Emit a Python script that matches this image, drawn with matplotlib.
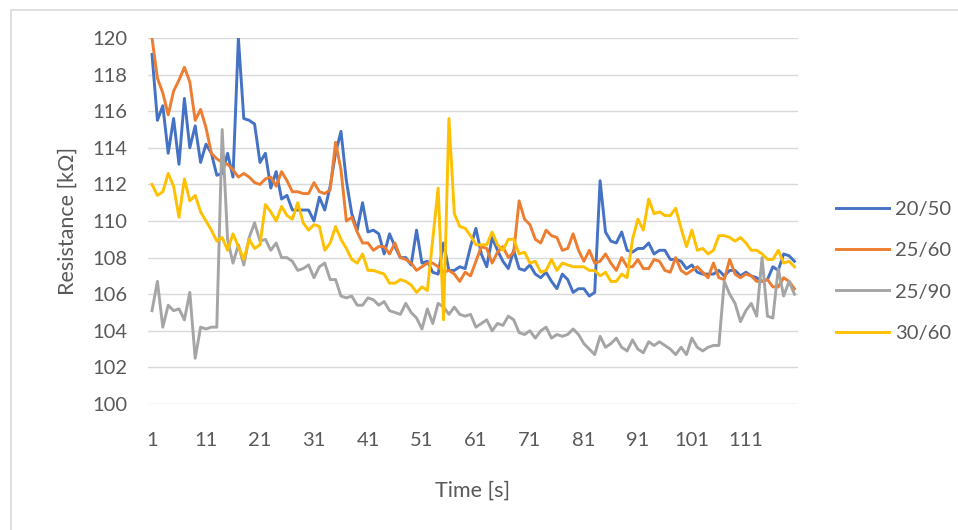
import numpy as np
import matplotlib
matplotlib.use("Agg")
import matplotlib.pyplot as plt
from matplotlib.patches import Rectangle

# resistance readings [kOhm], one per second
r_20_50 = [119.1, 115.5, 116.3, 113.7, 115.6, 113.1, 116.7, 114.0, 115.2, 113.2,
           114.2, 113.7, 112.5, 112.6, 113.7, 112.4, 120.0, 115.6, 115.5, 115.3,
           113.2, 113.7, 111.8, 112.7, 111.2, 111.4, 110.6, 110.6, 110.6, 110.6,
           110.0, 111.3, 110.6, 111.9, 113.7, 114.9, 112.2, 110.4, 109.5, 111.0,
           109.4, 109.5, 109.3, 108.2, 109.3, 108.6, 108.0, 108.0, 107.6, 109.5,
           107.7, 107.8, 107.2, 107.1, 108.8, 107.3, 107.3, 107.5, 107.4, 108.6,
           109.6, 108.2, 107.5, 109.1, 108.4, 107.8, 107.4, 108.4, 107.4, 107.3,
           107.6, 107.1, 106.9, 107.2, 106.7, 106.3, 107.1, 106.8, 106.1, 106.3,
           106.3, 105.9, 106.1, 112.2, 109.4, 108.9, 108.8, 109.4, 108.4, 108.3,
           108.5, 108.5, 108.8, 108.2, 108.4, 108.4, 107.9, 107.9, 107.8, 107.4,
           107.6, 107.2, 107.1, 107.1, 107.1, 107.3, 107.0, 107.3, 107.3, 107.0,
           107.2, 107.0, 106.9, 106.7, 106.8, 107.5, 107.3, 108.2, 108.1, 107.8]

r_25_60 = [120.0, 117.8, 117.0, 115.8, 117.1, 117.7, 118.4, 117.6, 115.5, 116.1,
           115.1, 113.7, 113.4, 113.2, 113.1, 112.8, 112.4, 112.6, 112.4, 112.1,
           112.0, 112.3, 112.4, 111.9, 112.7, 112.2, 111.6, 111.6, 111.5, 111.5,
           112.1, 111.6, 111.5, 111.7, 114.3, 112.8, 110.0, 110.2, 109.4, 108.8,
           108.8, 108.4, 108.6, 108.6, 108.2, 108.8, 108.0, 107.9, 107.7, 107.3,
           107.5, 107.7, 107.7, 107.5, 107.2, 107.3, 107.1, 106.7, 107.2, 107.0,
           107.8, 108.6, 108.5, 107.7, 108.3, 108.6, 108.0, 108.3, 111.1, 110.1,
           109.8, 109.0, 108.8, 109.5, 109.2, 109.1, 108.4, 108.5, 109.3, 108.4,
           107.8, 108.4, 107.7, 107.8, 108.2, 107.7, 107.3, 108.0, 107.5, 107.5,
           107.9, 107.4, 107.4, 107.9, 107.8, 107.3, 107.2, 108.0, 107.3, 107.1,
           107.3, 107.5, 107.2, 106.9, 107.7, 106.9, 106.8, 107.9, 107.1, 106.9,
           107.1, 107.0, 106.7, 106.7, 106.8, 106.4, 106.4, 106.9, 106.7, 106.3]

r_25_90 = [105.1, 106.7, 104.2, 105.4, 105.1, 105.2, 104.6, 106.1, 102.5, 104.2,
           104.1, 104.2, 104.2, 115.0, 109.0, 107.7, 108.7, 107.6, 109.1, 109.9,
           108.9, 109.0, 108.4, 108.8, 108.0, 108.0, 107.8, 107.3, 107.4, 107.6,
           106.9, 107.5, 107.7, 106.8, 106.8, 105.9, 105.8, 105.9, 105.4, 105.4,
           105.8, 105.7, 105.4, 105.6, 105.1, 105.0, 104.9, 105.5, 105.0, 104.7,
           104.1, 105.2, 104.4, 105.5, 105.3, 104.9, 105.3, 104.9, 104.8, 104.9,
           104.2, 104.4, 104.6, 104.0, 104.4, 104.3, 104.8, 104.6, 103.9, 103.8,
           104.0, 103.6, 104.0, 104.2, 103.6, 103.8, 103.7, 103.8, 104.1, 103.8,
           103.3, 103.0, 102.7, 103.7, 103.1, 103.3, 103.6, 103.1, 102.9, 103.5,
           103.0, 102.8, 103.4, 103.2, 103.4, 103.2, 103.0, 102.7, 103.1, 102.7,
           103.6, 103.1, 102.9, 103.1, 103.2, 103.2, 106.7, 106.0, 105.5, 104.5,
           105.1, 105.5, 104.8, 108.0, 104.8, 104.7, 107.4, 105.9, 106.7, 106.0]

r_30_60 = [112.0, 111.4, 111.6, 112.6, 111.9, 110.2, 112.3, 111.1, 111.4, 110.5,
           110.0, 109.5, 108.9, 109.1, 108.4, 109.3, 108.6, 107.9, 109.0, 108.5,
           108.7, 110.9, 110.5, 110.0, 110.8, 110.3, 110.1, 111.0, 109.9, 109.5,
           109.8, 109.7, 108.4, 108.8, 109.7, 109.0, 108.5, 107.9, 107.7, 108.2,
           107.3, 107.3, 107.2, 107.1, 106.6, 106.6, 106.8, 106.7, 106.5, 106.1,
           106.4, 106.2, 109.0, 111.8, 104.6, 115.6, 110.4, 109.7, 109.6, 109.2,
           108.7, 108.7, 108.7, 109.4, 108.7, 108.4, 109.0, 109.0, 108.2, 108.3,
           107.7, 107.8, 107.2, 107.3, 107.9, 107.3, 107.7, 107.6, 107.5, 107.5,
           107.5, 107.3, 107.3, 107.0, 107.2, 106.7, 106.7, 107.1, 106.9, 109.0,
           110.1, 109.5, 111.2, 110.4, 110.5, 110.3, 110.3, 110.7, 109.6, 108.6,
           109.5, 108.4, 108.5, 108.2, 108.4, 109.2, 109.2, 109.1, 108.9, 109.1,
           108.8, 108.4, 108.4, 108.2, 107.9, 107.9, 108.4, 107.7, 107.8, 107.5]

series = ["20/50", "25/60", "25/90", "30/60"]
colors = ["#4472C4", "#ED7D31", "#A5A5A5", "#FFC000"]
x_ticks = [1, 11, 21, 31, 41, 51, 61, 71, 81, 91, 101, 111]

plt.rcParams["font.family"] = ["Lato", "DejaVu Sans"]
txt = "#595959"

fig = plt.figure(figsize=(9.58, 5.30), dpi=100)
# chart area border (only top/left edges fall inside the image)
fig.patches.append(Rectangle((11 / 958, -0.1), 1.2, 1.1 - 10 / 530,
                             transform=fig.transFigure, fill=False,
                             edgecolor="#D9D9D9", linewidth=1.2))

ax = fig.add_axes([0.1545, 0.2377, 0.6785, 0.6906])

t = np.arange(1, len(r_20_50) + 1)
for vals, name, c in zip([r_20_50, r_25_60, r_25_90, r_30_60], series, colors):
    ax.plot(t, vals, color=c, linewidth=2.1, label=name, solid_joinstyle="round")

ax.set_xlim(0.26, 120.66)
ax.set_ylim(100, 120)
ax.set_yticks(np.arange(100, 121, 2))
ax.set_xticks(x_ticks)
ax.grid(axis="y", color="#D9D9D9", linewidth=1)
ax.set_axisbelow(True)
for s in ax.spines.values():
    s.set_visible(False)
ax.tick_params(axis="both", length=0, labelsize=14.5, labelcolor=txt)
ax.tick_params(axis="x", pad=20)
ax.tick_params(axis="y", pad=15)

ax.set_xlabel("Time [s]", fontsize=15.5, color=txt, labelpad=23)
ax.set_ylabel("Resistance [kΩ]", fontsize=15.5, color=txt, labelpad=10)

fig.legend(loc="center left", bbox_to_anchor=(0.873, 0.488), frameon=False,
           fontsize=14.5, labelcolor=txt, handlelength=2.6, handletextpad=0.3,
           labelspacing=1.2, borderpad=0, borderaxespad=0)

fig.savefig("out.png", dpi=100)
